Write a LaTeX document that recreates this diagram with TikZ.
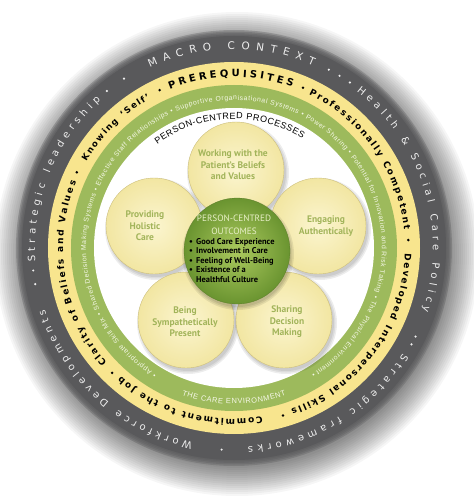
\documentclass[tikz,border=0pt]{standalone}
\usepackage{fontspec}
\setmainfont{Liberation Sans}
\newfontfamily\ringfont{DejaVu Sans}
\newfontfamily\petalfont{PT Sans}
\newfontfamily\smallfont{Liberation Sans}
\usetikzlibrary{decorations.text}
\definecolor{darkring}{HTML}{59595B}
\definecolor{yellowring}{HTML}{F8E58E}
\definecolor{greenring}{HTML}{9DBA5C}
\definecolor{petalin}{HTML}{FBF5CF}
\definecolor{petalout}{HTML}{F2E6A2}
\definecolor{petaledge}{HTML}{CDBF7C}
\definecolor{petaltext}{HTML}{A2B45A}
\definecolor{ballin}{HTML}{ABC95E}
\definecolor{ballout}{HTML}{6A9430}
\definecolor{outertext}{HTML}{EEEEEE}
\definecolor{greentext}{HTML}{F6F8E8}
\definecolor{hubtitle}{HTML}{E8EFC8}
\newcommand\ringlabel[5]{\path[decorate,decoration={text along path,text align=fit to path,text={|#4|#5}}] (#2:#1) arc[start angle=#2,end angle=#3,radius=#1];}
\begin{document}
\begin{tikzpicture}[x=1pt,y=1pt,
  petal/.style={circle,minimum size=96pt,inner sep=0pt,shading=radial,inner color=petalin,outer color=petalout,draw=petaledge,line width=0.4pt},
  petaltxt/.style={font=\petalfont\bfseries\fontsize{9.5}{11.6}\selectfont,text=petaltext,align=center},
  hub/.style={circle,minimum size=106pt,inner sep=0pt,shading=radial,inner color=ballin,outer color=ballout,draw=ballout!85!black,line width=0.3pt},
  hubtitletxt/.style={font=\petalfont\fontsize{9.2}{11}\selectfont,text=hubtitle,inner sep=0pt},
  hubtxt/.style={font=\petalfont\bfseries\fontsize{8.4}{9.6}\selectfont,text=black,align=left,inner sep=0pt}]
\useasboundingbox (-234,-253) rectangle (240,248);
\fill[white] (-234,-253) rectangle (240,248);
% outer soft shadow
\foreach \i in {1,...,15} \fill[black,opacity=0.035] (3,-6) circle ({212+2*\i});
\foreach \i in {0,...,4} \fill[darkring,opacity=0.35] (0,0) circle ({212+1.5*\i});
\fill[darkring] (0,0) circle (212);
\fill[yellowring] (0,0) circle (186);
\fill[greenring] (0,0) circle (163);
\fill[white] (0,0) circle (140);
% outer ring texts
\ringlabel{199}{115}{66.5}{\ringfont\fontsize{10.5}{12}\selectfont\color{outertext}}{MACRO CONTEXT}
\ringlabel{199}{52}{-18.5}{\ringfont\fontsize{10}{12}\selectfont\color{outertext}}{Health {\&} Social Care Policy}
\ringlabel{199}{-32}{-86}{\ringfont\fontsize{10}{12}\selectfont\color{outertext}}{Strategic frameworks}
\ringlabel{199}{-102}{-162}{\ringfont\fontsize{10}{12}\selectfont\color{outertext}}{Workforce Developments}
\ringlabel{199}{184}{132}{\ringfont\fontsize{10}{12}\selectfont\color{outertext}}{Strategic leadership}
\foreach \a in {129,123,62,58.5,55,-26,-28.5,-93.5,190.3,186.4} \fill[outertext] (\a:202) circle (1.2);
% yellow ring texts
\ringlabel{171}{112}{70}{\ringfont\bfseries\fontsize{10}{12}\selectfont\color{black}}{PREREQUISITES}
\ringlabel{171}{64}{6}{\ringfont\bfseries\fontsize{9}{11}\selectfont\color{black}}{Professionally Competent}
\ringlabel{171}{-1.8}{-70.5}{\ringfont\bfseries\fontsize{9}{11}\selectfont\color{black}}{Developed Interpersonal Skills}
\ringlabel{171}{-80.5}{-131.3}{\ringfont\bfseries\fontsize{9}{11}\selectfont\color{black}}{Commitment to the Job}
\ringlabel{171}{222}{157.3}{\ringfont\bfseries\fontsize{9}{11}\selectfont\color{black}}{Clarity of Beliefs and Values}
\ringlabel{171}{149.6}{119.3}{\ringfont\bfseries\fontsize{8.6}{11}\selectfont\color{black}}{Knowing ‘Self’}
\foreach \a in {66.7,2.6,-73.7,-134.3,154.3,115.2} \fill[black] (\a:174.5) circle (1.4);
% green ring texts
\ringlabel{148}{238.5}{-58.3}{\smallfont\fontsize{6.8}{8}\selectfont\color{greentext}}{• Appropriate Skill Mix • Shared Decision Making Systems • Effective Staff Relationships • Supportive Organisational Systems • Power Sharing • Potential for Innovation and Risk Taking • The Physical Environment •}
\ringlabel{156}{-109.5}{-70.5}{\smallfont\fontsize{7.5}{9}\selectfont\color{greentext}}{THE CARE ENVIRONMENT}
% processes title
\ringlabel{129}{126.5}{58}{\smallfont\fontsize{9}{11}\selectfont\color{black}}{PERSON-CENTRED PROCESSES}
% petal shadows
\foreach \x/\y in {2/78,-80/22,84/22,-48/-72,50/-72}
  \foreach \r in {48,49.5,51} \fill[black,opacity=0.07] (\x+2,\y-3) circle (\r);
% petals
\node[petal] (ptop) at (2,78) {};
\node[petal] (pleft) at (-80,22) {};
\node[petal] (pright) at (84,22) {};
\node[petal] (pbl) at (-48,-72) {};
\node[petal] (pbr) at (50,-72) {};
\node[petaltxt] (ttop) at (-1,83) {Working with the\\Patient’s Beliefs\\and Values};
\node[petaltxt] (tleft) at (-89,22) {Providing\\Holistic\\Care};
\node[petaltxt] (tright) at (92,22) {Engaging\\Authentically};
\node[petaltxt] (tbl) at (-49,-74) {Being\\Sympathetically\\Present};
\node[petaltxt] (tbr) at (53,-74) {Sharing\\Decision\\Making};
% hub
\foreach \r in {53,54.5,56} \fill[black,opacity=0.08] (4,-6) circle (\r);
\node[hub] (hub) at (3,-3) {};
\node[hubtitletxt] (hubtitle1) at (0,30) {PERSON-CENTRED};
\node[hubtitletxt] (hubtitle2) at (0,17) {OUTCOMES};
\node[hubtxt,anchor=north west] (hublist) at (-45,10) {%
\makebox[7pt][l]{•}Good Care Experience\\
\makebox[7pt][l]{•}Involvement in Care\\
\makebox[7pt][l]{•}Feeling of Well-Being\\
\makebox[7pt][l]{•}Existence of a\\
\makebox[7pt][l]{}Healthful Culture};
\end{tikzpicture}
\end{document}
